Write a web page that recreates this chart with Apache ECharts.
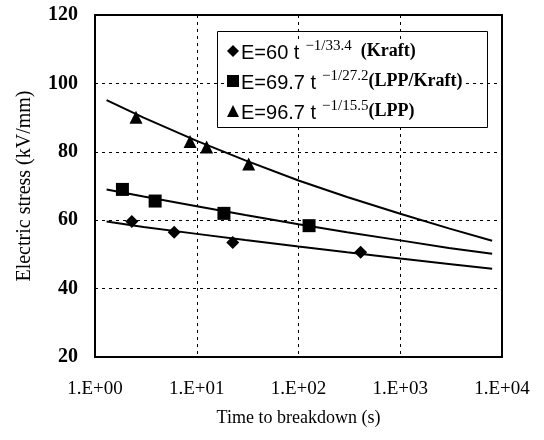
<!DOCTYPE html>
<html>
<head>
<meta charset="utf-8">
<script src="https://cdn.jsdelivr.net/npm/echarts@6/dist/echarts.min.js"></script>
<style>html,body{margin:0;padding:0;background:#fff}#c{width:544px;height:440px}</style>
</head>
<body>
<div id="c"></div>
<script>
// Measured points (time s, stress kV/mm)
const kraftT = [2.3, 6.0, 22.6, 408];
const kraftE = [59.6, 56.5, 53.5, 50.6];
const lppKraftT = [1.86, 3.9, 18.5, 127];
const lppKraftE = [69.0, 65.6, 62.0, 58.4];
const lppT = [2.53, 8.6, 12.5, 32.4];
const lppE = [90.1, 83.0, 81.4, 76.4];
// Fitted curves
const fitT = [1.3, 3, 10, 30, 100, 300, 1000, 3000, 8000];
const fitKraftE = [59.6, 58.0, 56.0, 54.2, 52.3, 50.6, 48.8, 47.2, 45.8];
const fitLppKraftE = [69.0, 66.9, 64.1, 61.5, 58.8, 56.5, 54.1, 51.9, 50.2];
const fitLppE = [95.1, 90.0, 83.2, 77.5, 71.6, 66.8, 61.9, 57.6, 54.0];
const legendNames = ['Kraft', 'LPP/Kraft', 'LPP'];
const legendCoef = ['E=60 t', 'E=69.7 t', 'E=96.7 t'];
const legendExp = ['\u22121/33.4', '\u22121/27.2', '\u22121/15.5'];
const legendTag = ['  (Kraft)', '(LPP/Kraft)', '(LPP)'];
const yTicks = [20, 40, 60, 80, 100, 120];

const zip = (a, b) => a.map((v, i) => [v, b[i]]);
const chart = echarts.init(document.getElementById('c'));
const serif = '"Liberation Serif", "Times New Roman", serif';
const sans = '"Liberation Sans", Arial, sans-serif';

const fitStyle = { color: '#000', width: 2 };
const mk = { color: '#000', opacity: 1 };
chart.setOption({
  animation: false,
  backgroundColor: '#fff',
  grid: { left: 95, right: 42, top: 15, bottom: 83, show: true, borderColor: '#000', borderWidth: 2 },
  xAxis: {
    type: 'log', logBase: 10, min: 1, max: 10000,
    name: 'Time to breakdown (s)', nameLocation: 'middle', nameGap: 52,
    nameTextStyle: { fontFamily: serif, fontSize: 18, color: '#000' },
    axisLine: { show: false },
    axisTick: { show: false },
    splitLine: { show: true, lineStyle: { color: '#000', type: [3, 4], width: 1 } },
    axisLabel: {
      margin: 23, color: '#000', fontFamily: serif, fontSize: 19,
      formatter: v => '1.E+' + String(Math.round(Math.log10(v))).padStart(2, '0')
    }
  },
  yAxis: {
    type: 'value', min: yTicks[0], max: yTicks[yTicks.length - 1], interval: 20,
    name: 'Electric stress (kV/mm)', nameLocation: 'middle', nameGap: 60,
    nameTextStyle: { fontFamily: serif, fontSize: 20, color: '#000' },
    axisLine: { show: false },
    axisTick: { show: false },
    splitLine: { show: true, lineStyle: { color: '#000', type: [3, 4], width: 1 } },
    axisLabel: { margin: 17, color: '#000', fontFamily: serif, fontSize: 20, fontWeight: 'bold' }
  },
  graphic: [{
    type: 'rect', left: 217, top: 31, z: 10,
    shape: { width: 270, height: 96 },
    style: { fill: 'rgba(0,0,0,0)', stroke: '#000', lineWidth: 1 }
  }],
  legend: {
    data: legendNames,
    orient: 'vertical', left: 227, top: 39,
    itemWidth: 12, itemHeight: 12, itemGap: 6, padding: 0,
    backgroundColor: '#fff',
    formatter: name => {
      const i = legendNames.indexOf(name);
      return '{a|' + legendCoef[i] + '}{s|' + legendExp[i] + '}{b|' + legendTag[i] + '}';
    },
    textStyle: {
      padding: [0, 0, 0, -3],
      rich: {
        a: { fontFamily: sans, fontSize: 20, color: '#000', lineHeight: 24, verticalAlign: 'bottom' },
        s: { fontFamily: serif, fontSize: 15, color: '#000', verticalAlign: 'top', lineHeight: 24, padding: [0, 0, 8, 6] },
        b: { fontFamily: serif, fontSize: 18, fontWeight: 'bold', color: '#000', lineHeight: 24 }
      }
    }
  },
  series: [
    { type: 'line', data: zip(fitT, fitKraftE), showSymbol: false, lineStyle: fitStyle, silent: true },
    { type: 'line', data: zip(fitT, fitLppKraftE), showSymbol: false, lineStyle: fitStyle, silent: true },
    { type: 'line', data: zip(fitT, fitLppE), showSymbol: false, lineStyle: fitStyle, silent: true },
    { name: 'Kraft', type: 'scatter', data: zip(kraftT, kraftE), symbol: 'diamond', symbolSize: 13, itemStyle: mk, z: 5 },
    { name: 'LPP/Kraft', type: 'scatter', data: zip(lppKraftT, lppKraftE), symbol: 'rect', symbolSize: 13, itemStyle: mk, z: 5 },
    { name: 'LPP', type: 'scatter', data: zip(lppT, lppE), symbol: 'triangle', symbolSize: 13, itemStyle: mk, z: 5 }
  ]
});
</script>
</body>
</html>
